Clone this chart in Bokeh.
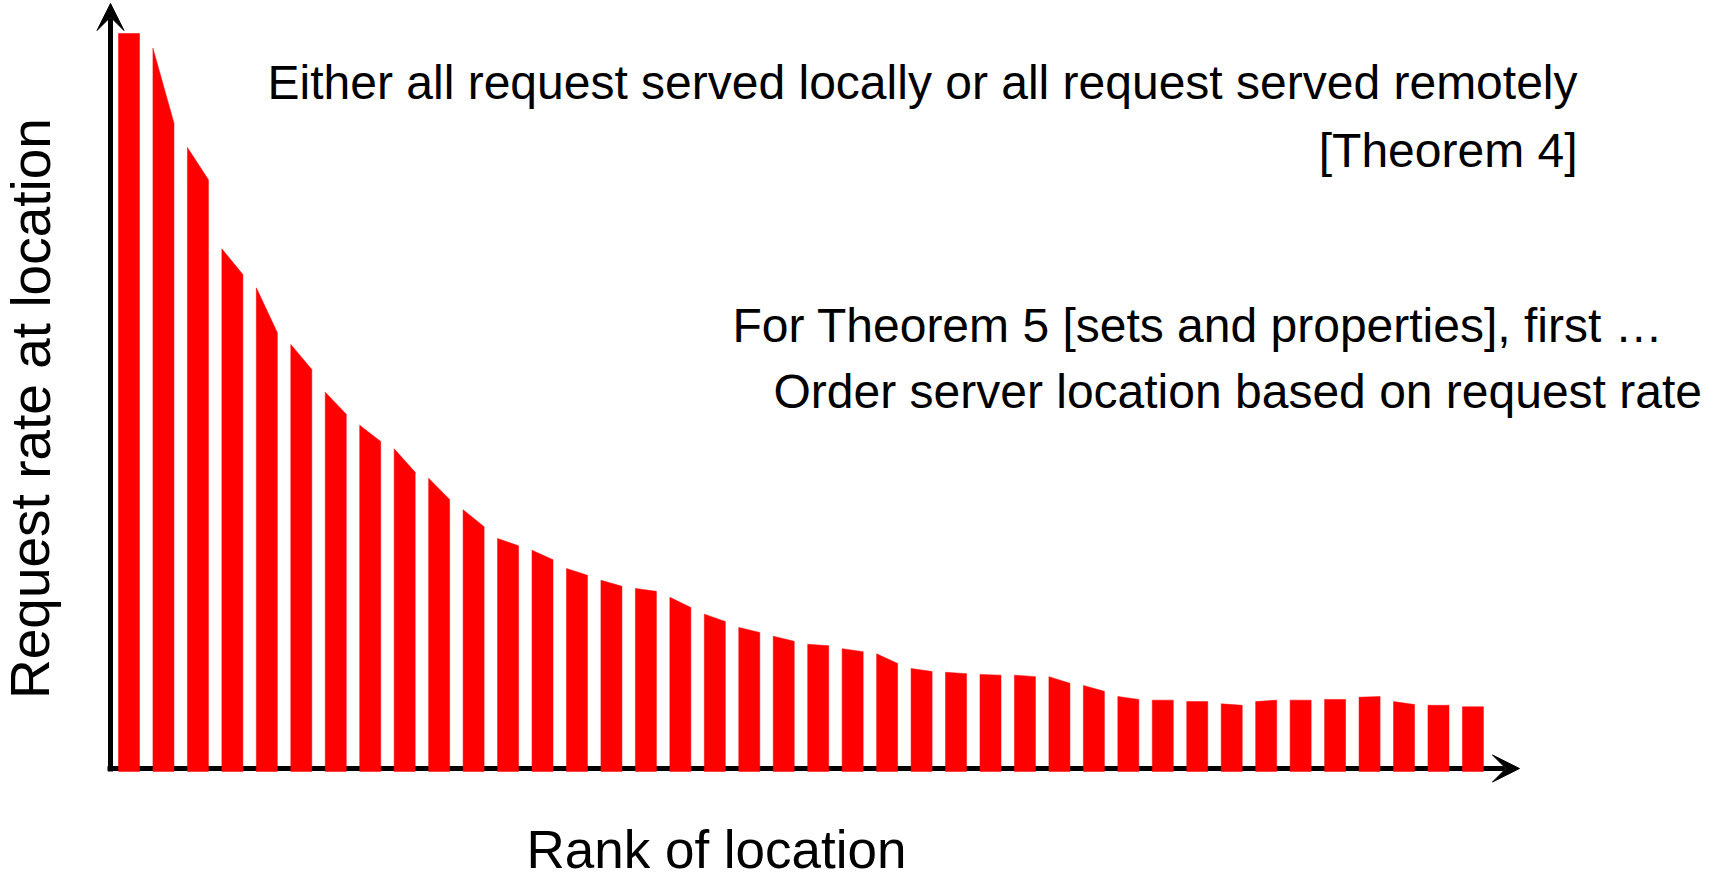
from bokeh.plotting import figure
from bokeh.models import Range1d, Label, Arrow, VeeHead, ColumnDataSource
from bokeh.embed import file_html
from bokeh.resources import INLINE

# ---- data ----
ranks = list(range(1, 41))
# request rate at the left and right edge of each bar top (first bar = 100)
rate_left = [100.0, 98.0, 84.5, 70.7, 65.4, 57.7, 51.2, 46.7, 43.5, 39.5,
             35.2, 31.3, 29.7, 27.2, 25.6, 24.5, 23.3, 21.0, 19.2, 18.0,
             16.9, 16.3, 15.6, 13.6, 13.1, 12.8, 12.7, 12.5, 11.3, 9.8,
             9.3, 9.1, 8.8, 9.1, 9.3, 9.4, 9.7, 9.1, 8.6, 8.4]
rate_right = [100.0, 87.8, 80.1, 67.2, 59.3, 54.3, 48.2, 44.5, 40.3, 36.6,
              32.9, 30.3, 28.4, 26.3, 24.8, 24.1, 21.9, 20.0, 18.5, 17.3,
              16.7, 15.9, 14.3, 13.2, 12.9, 12.7, 12.5, 11.6, 10.5, 9.4,
              9.3, 9.1, 8.6, 9.3, 9.3, 9.4, 9.8, 8.7, 8.6, 8.4]

x_label = "Rank of location"
y_label = "Request rate at location"
notes_top = ["Either all request served locally or all request served remotely",
             "[Theorem 4]"]
notes_mid = ["For Theorem 5 [sets and properties], first \u2026",
             "Order server location based on request rate"]

# ---- figure ----
W, H = 1717, 880
p = figure(width=W, height=H, output_backend="svg", toolbar_location=None,
           x_range=Range1d(-2.729, 47.097), y_range=Range1d(-15.238, 104.49),
           x_axis_type=None, y_axis_type=None, min_border=0,
           outline_line_color=None, background_fill_color="white",
           border_fill_color="white")
p.grid.visible = False

FONT = "Liberation Sans"

# axes drawn as arrows (screen units)
x_axis = Arrow(x_start=107, y_start=112, x_end=1519, y_end=112,
               start_units="screen", end_units="screen",
               line_width=5, line_color="black",
               end=VeeHead(size=27, fill_color="black", line_color="black", line_width=1),
               level="underlay")
y_axis = Arrow(x_start=110, y_start=109, x_end=110, y_end=877,
               start_units="screen", end_units="screen",
               line_width=5, line_color="black",
               end=VeeHead(size=27, fill_color="black", line_color="black", line_width=1))
p.add_layout(x_axis)
p.add_layout(y_axis)

# bars with sloped tops
BAR_W = 0.61
BASE = -0.4
xs = [[r - BAR_W / 2, r - BAR_W / 2, r + BAR_W / 2, r + BAR_W / 2] for r in ranks]
ys = [[BASE, l, rr, BASE] for l, rr in zip(rate_left, rate_right)]
src = ColumnDataSource(dict(xs=xs, ys=ys, rank=ranks, left=rate_left, right=rate_right))
p.patches("xs", "ys", source=src, fill_color="#FF0000", line_color="#FF0000", line_width=0.5)

# texts
def lab(x, y, text, size, align, angle=0.0):
    p.add_layout(Label(x=x, y=y, x_units="screen", y_units="screen", text=text,
                       angle=angle, text_font=FONT, text_font_size=size,
                       text_align=align, text_baseline="alphabetic",
                       text_color="black"))

lab(1577, 798, notes_top[0], "48px", "right")
lab(1577, 730, notes_top[1], "48px", "right")
lab(732, 555, notes_mid[0], "48px", "left")
lab(773, 489, notes_mid[1], "48px", "left")
lab(716, 31, x_label, "53px", "center")
lab(30, 472, y_label, "55px", "center", angle=1.5707963)

open("out.html", "w").write(file_html(p, INLINE))
